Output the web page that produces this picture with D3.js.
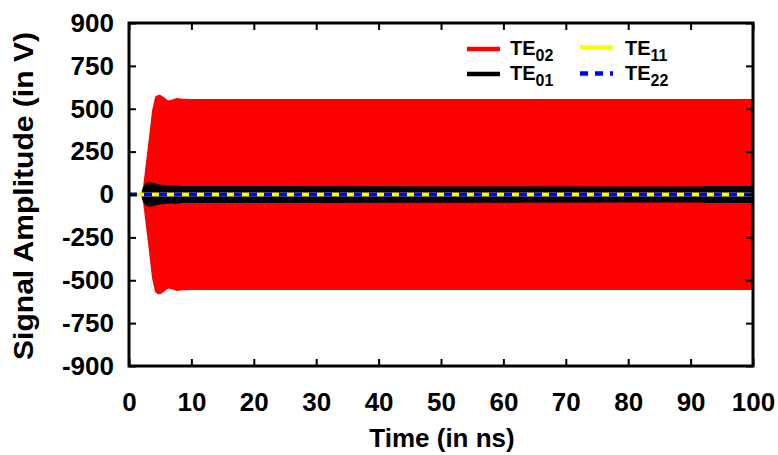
<!DOCTYPE html>
<html>
<head>
<meta charset="utf-8">
<script src="https://cdn.jsdelivr.net/npm/d3@7"></script>
<style>
  html, body { margin: 0; padding: 0; background: #fff; }
  svg { display: block; }
  text { font-family: "Liberation Sans", Arial, sans-serif; font-weight: bold; fill: #000; }
</style>
</head>
<body>
<svg id="chart" width="778" height="455"></svg>
<script>
// ---- data ----
const xTickValues = [0, 10, 20, 30, 40, 50, 60, 70, 80, 90, 100];
const yTickValues = [-1000, -750, -500, -250, 0, 250, 500, 750, 1000];
const yTickLabels = ["-900", "-750", "-500", "-250", "0", "250", "500", "750", "900"];

// TE02 envelope (oscillation fills between +amp and -amp)
const te02Time = [2.1, 2.5, 3.1, 3.7, 4.2, 4.6, 5.0, 5.5, 6.0, 6.3, 6.8, 7.7, 8.5, 10, 30, 50, 70, 90, 100];
const te02Amp  = [0, 120, 300, 490, 570, 580, 582, 570, 555, 548, 552, 562, 558, 557, 557, 557, 557, 557, 557];

// TE01 envelope
const te01Time = [1.9, 2.2, 2.6, 3.0, 3.4, 3.8, 4.4, 5.0, 6.0, 7.0, 7.4, 7.8, 8.5, 20, 50, 80, 92, 92.5, 100];
const te01Amp  = [0, 40, 62, 70, 72, 68, 62, 58, 54, 52, 56, 52, 50, 49, 48, 47, 47, 50, 50];

// TE11 and TE22 stay at zero
const te11Time = [0, 100];
const te11Val  = [0, 0];
const te22Time = [0, 100];
const te22Val  = [0, 0];

const legendItems = [
  { sub: "02", color: "#ff0000", dash: null },
  { sub: "01", color: "#000000", dash: null },
  { sub: "11", color: "#ffff00", dash: null },
  { sub: "22", color: "#0000ff", dash: "8,7" }
];

// ---- layout ----
const L = 129, R = 753, T = 23, B = 366;
const svg = d3.select("#chart");
const x = d3.scaleLinear().domain([0, 100]).range([L, R]);
const y = d3.scaleLinear().domain([-1000, 1000]).range([B, T]);

const clip = svg.append("clipPath").attr("id", "clip")
  .append("rect").attr("x", L).attr("y", T).attr("width", R - L).attr("height", B - T);
const plot = svg.append("g").attr("clip-path", "url(#clip)");

function env(times, amps) {
  return times.map((t, i) => ({ t, a: amps[i] }));
}
const area = d3.area().x(d => x(d.t)).y0(d => y(-d.a)).y1(d => y(d.a));
const line = d3.line().x(d => x(d.t)).y(d => y(d.v));

plot.append("path").datum(env(te02Time, te02Amp)).attr("d", area).attr("fill", "#ff0000");
plot.append("path").datum(env(te01Time, te01Amp)).attr("d", area).attr("fill", "#000000");
plot.append("path").datum(te11Time.map((t, i) => ({ t, v: te11Val[i] })))
  .attr("d", line).attr("fill", "none").attr("stroke", "#ffff00").attr("stroke-width", 4);
plot.append("path").datum(te22Time.map((t, i) => ({ t, v: te22Val[i] })))
  .attr("d", line).attr("fill", "none").attr("stroke", "#0000ff").attr("stroke-width", 4)
  .attr("stroke-dasharray", "8,7");

// ---- axes ----
function styleAxis(g) {
  g.select(".domain").remove();
  g.selectAll(".tick line").attr("stroke", "#000").attr("stroke-width", 2);
  g.selectAll(".tick text").style("font-size", "26px").style("font-family", "'Liberation Sans', Arial, sans-serif").style("font-weight", "bold").attr("fill", "#000");
}
svg.append("g").attr("transform", `translate(0,${B})`)
  .call(d3.axisBottom(x).tickValues(xTickValues).tickSize(-7).tickPadding(27).tickFormat(d3.format("d")))
  .call(styleAxis);
svg.append("g").attr("transform", `translate(0,${T})`)
  .call(d3.axisTop(x).tickValues(xTickValues).tickSize(-7).tickFormat(""))
  .call(styleAxis);
svg.append("g").attr("transform", `translate(${L},0)`)
  .call(d3.axisLeft(y).tickValues(yTickValues).tickSize(-7).tickPadding(15)
    .tickFormat((d, i) => yTickLabels[i]))
  .call(styleAxis);
svg.append("g").attr("transform", `translate(${R},0)`)
  .call(d3.axisRight(y).tickValues(yTickValues).tickSize(-7).tickFormat(""))
  .call(styleAxis);

svg.append("rect").attr("x", L).attr("y", T).attr("width", R - L).attr("height", B - T)
  .attr("fill", "none").attr("stroke", "#000").attr("stroke-width", 3);

// ---- axis titles ----
svg.append("text").attr("x", 442).attr("y", 447).attr("text-anchor", "middle")
  .style("font-size", "26px").text("Time (in ns)");
svg.append("text").attr("transform", "translate(33,196) rotate(-90)").attr("text-anchor", "middle")
  .style("font-size", "27px").attr("textLength", 328).attr("lengthAdjust", "spacingAndGlyphs")
  .text("Signal Amplitude (in V)");

// ---- legend ----
const legPos = [
  { lx: 467, tx: 510, y: 49 },
  { lx: 467, tx: 510, y: 74 },
  { lx: 580, tx: 625, y: 47.5 },
  { lx: 580, tx: 625, y: 73.5 }
];
const leg = svg.append("g");
legendItems.forEach((it, i) => {
  const p = legPos[i];
  leg.append("line").attr("x1", p.lx).attr("x2", p.lx + 33).attr("y1", p.y).attr("y2", p.y)
    .attr("stroke", it.color).attr("stroke-width", 4.5)
    .attr("stroke-dasharray", it.dash);
  const t = leg.append("text").attr("x", p.tx).attr("y", (i < 2 ? [55, 80][i] : [55, 80][i - 2]))
    .style("font-size", "20px");
  t.append("tspan").text("TE");
  t.append("tspan").attr("dy", 6).style("font-size", "16px").text(it.sub);
});
</script>
</body>
</html>
